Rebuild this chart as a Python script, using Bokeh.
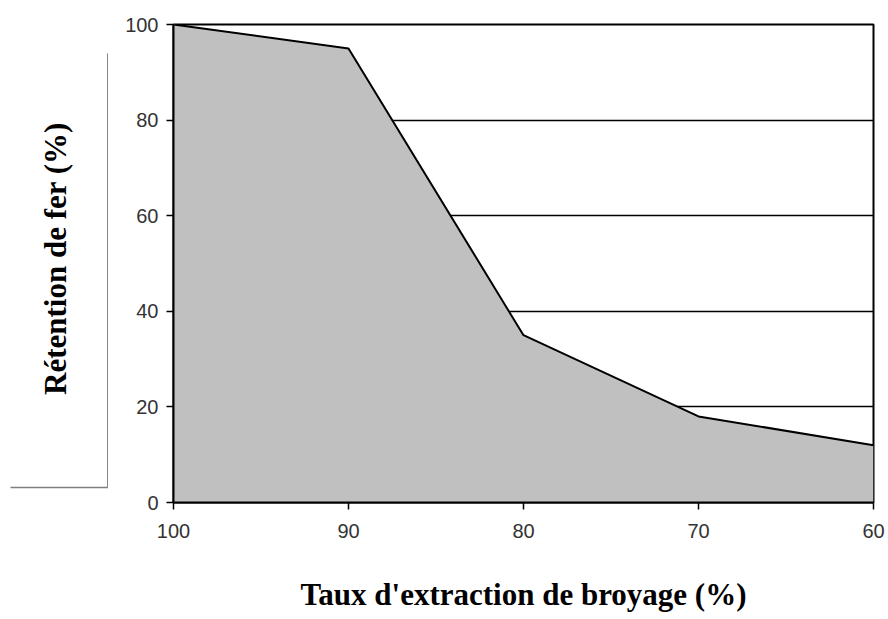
from math import pi
from bokeh.plotting import figure
from bokeh.layouts import row
from bokeh.models import Range1d, FixedTicker
from bokeh.core.properties import value
from bokeh.embed import file_html
from bokeh.resources import INLINE

extraction = [100, 90, 80, 70, 60]
retention = [100, 95, 35, 18, 12]
x_ticks = [100, 90, 80, 70, 60]
y_ticks = [0, 20, 40, 60, 80, 100]
x_title = "Taux d'extraction de broyage (%)"
y_title = "Rétention de fer (%)"

H = 619
TOP = 24
FRAME_H = 478
BOTTOM = H - TOP - FRAME_H

# ---- left panel: y title and decorative bracket (frame aligned with main frame,
# data units = page pixels) ----
left = figure(width=108, height=H, output_backend="svg", toolbar_location=None,
              x_range=Range1d(0, 108), y_range=Range1d(TOP + FRAME_H, TOP),
              min_border=0, min_border_left=0, min_border_right=0,
              min_border_top=TOP, min_border_bottom=BOTTOM)
left.axis.visible = False
left.grid.visible = False
left.outline_line_color = None
left.background_fill_color = "white"
left.border_fill_color = "white"
left.text(x=[55], y=[258], text=[y_title], angle=pi / 2,
          text_font=value("Liberation Serif"), text_font_style="bold",
          text_font_size="31px", text_color="black",
          text_align="center", text_baseline="middle")
left.segment(x0=[107.3, 10], y0=[53, 487], x1=[107.3, 107.3], y1=[487, 487],
             line_color="#7f7f7f", line_width=1.5)

# ---- main chart ----
p = figure(width=780, height=H, output_backend="svg", toolbar_location=None,
           x_range=Range1d(100, 60), y_range=Range1d(0, 100),
           min_border_left=65, min_border_right=15, min_border_top=TOP,
           min_border_bottom=BOTTOM)
p.background_fill_color = "white"
p.border_fill_color = "white"
p.outline_line_color = "black"
p.outline_line_width = 2

p.xgrid.visible = False
p.ygrid.ticker = FixedTicker(ticks=y_ticks)
p.ygrid.grid_line_color = "black"
p.ygrid.grid_line_width = 1.5

for ax, ticks in ((p.xaxis[0], x_ticks), (p.yaxis[0], y_ticks)):
    ax.ticker = FixedTicker(ticks=ticks)
    ax.axis_line_color = "black"
    ax.axis_line_width = 2
    ax.major_tick_line_color = "black"
    ax.major_tick_line_width = 1.5
    ax.major_tick_out = 7
    ax.major_tick_in = 0
    ax.minor_tick_line_color = None
    ax.major_label_text_font = "Liberation Sans"
    ax.major_label_text_font_size = "20px"
    ax.major_label_text_color = "#333333"

p.yaxis[0].major_label_standoff = 8
p.xaxis[0].major_label_standoff = 14
p.xaxis[0].axis_label = x_title
p.xaxis[0].axis_label_text_font = "Liberation Serif"
p.xaxis[0].axis_label_text_font_style = "bold"
p.xaxis[0].axis_label_text_font_size = "31px"
p.xaxis[0].axis_label_text_color = "black"
p.xaxis[0].axis_label_standoff = 36

p.varea(x=extraction, y1=[0] * len(extraction), y2=retention, fill_color="#c0c0c0")
p.line(x=extraction, y=retention, line_color="black", line_width=2)

layout = row(left, p)
open("out.html", "w").write(file_html(layout, INLINE))
